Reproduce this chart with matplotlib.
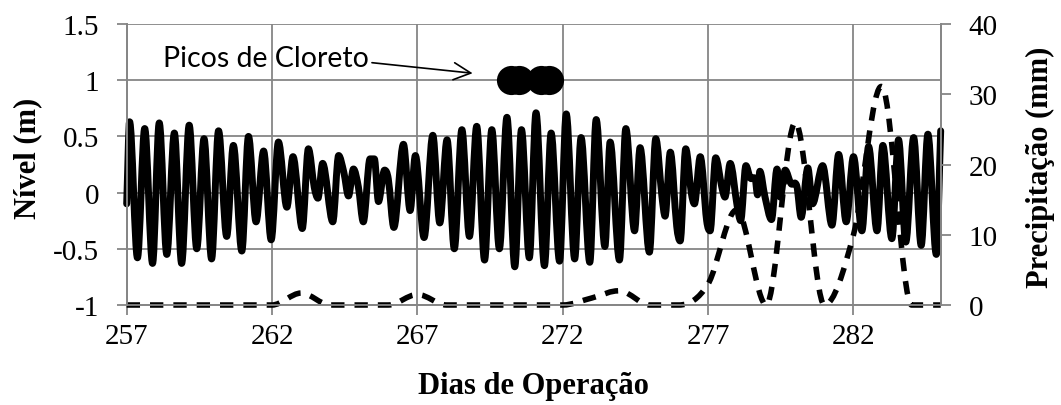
import matplotlib
matplotlib.use("Agg")
import matplotlib.pyplot as plt
from matplotlib.path import Path
from matplotlib.patches import PathPatch

# tide level turning points (day of operation, level in m)
tide_day = [257.00, 257.10, 257.37, 257.62, 257.89, 258.12, 258.38, 258.64, 258.89, 259.15,
            259.41, 259.66, 259.92, 260.16, 260.44, 260.67, 260.96, 261.19, 261.45, 261.71,
            261.97, 262.22, 262.51, 262.72, 263.04, 263.25, 263.45, 263.58, 263.74, 264.09,
            264.29, 264.47, 264.63, 264.80, 264.97, 265.14, 265.37, 265.52, 265.66, 265.87,
            266.00, 266.19, 266.52, 266.75, 266.93, 267.23, 267.53, 267.77, 268.02, 268.27,
            268.53, 268.79, 269.04, 269.31, 269.56, 269.82, 270.08, 270.35, 270.58, 270.85,
            271.08, 271.37, 271.60, 271.89, 272.12, 272.41, 272.63, 272.93, 273.15, 273.45,
            273.63, 273.95, 274.17, 274.47, 274.66, 274.98, 275.20, 275.41, 275.52, 275.70,
            275.92, 276.04, 276.23, 276.42, 276.53, 276.73, 276.95, 277.07, 277.26, 277.47,
            277.58, 277.76, 278.00, 278.12, 278.30, 278.45, 278.62, 278.70, 278.78, 278.95,
            279.18, 279.37, 279.48, 279.65, 279.85, 280.05, 280.20, 280.43, 280.59, 280.94,
            281.26, 281.49, 281.75, 282.00, 282.29, 282.52, 282.81, 283.01, 283.32, 283.55,
            283.80, 284.07, 284.33, 284.56, 284.85, 285.00]
tide_level = [-0.10, 0.63, -0.58, 0.57, -0.63, 0.62, -0.55, 0.53, -0.63, 0.60,
              -0.50, 0.48, -0.59, 0.55, -0.39, 0.42, -0.52, 0.50, -0.26, 0.37,
              -0.42, 0.45, -0.13, 0.32, -0.32, 0.39, 0.05, -0.05, 0.26, -0.26,
              0.33, 0.18, -0.03, 0.21, 0.05, -0.26, 0.30, 0.30, -0.08, 0.20,
              0.12, -0.31, 0.43, -0.16, 0.33, -0.40, 0.51, -0.27, 0.47, -0.50,
              0.56, -0.39, 0.59, -0.60, 0.56, -0.50, 0.67, -0.66, 0.56, -0.58,
              0.71, -0.65, 0.53, -0.61, 0.70, -0.59, 0.49, -0.62, 0.65, -0.48,
              0.45, -0.60, 0.57, -0.34, 0.40, -0.53, 0.48, -0.03, -0.21, 0.36,
              -0.30, -0.43, 0.39, 0.00, -0.10, 0.32, -0.25, -0.34, 0.31, 0.05,
              -0.04, 0.26, -0.12, -0.25, 0.24, 0.13, 0.12, -0.02, 0.19, -0.03,
              -0.24, 0.21, -0.04, 0.20, 0.08, 0.06, -0.22, 0.22, -0.10, 0.24,
              -0.29, 0.34, -0.26, 0.32, -0.34, 0.41, -0.34, 0.42, -0.41, 0.47,
              -0.44, 0.49, -0.47, 0.52, -0.55, 0.55]

# daily precipitation (mm)
rain_day = list(range(257, 286))
rain_mm = [0, 0, 0, 0, 0, 0, 1.7, 0, 0, 0, 1.5, 0, 0, 0, 0, 0, 1.0, 2.0, 0, 0,
           3.0, 13.5, 0, 26, 0, 10, 31, 0, 0]

# chloride peaks
chloride_day = [270.21, 270.49, 271.25, 271.53]
chloride_level = [1.0, 1.0, 1.0, 1.0]

x_ticks = [257, 262, 267, 272, 277, 282]
level_ticks = [-1, -0.5, 0, 0.5, 1, 1.5]
level_labels = ["-1", "-0.5", "0", "0.5", "1", "1.5"]
rain_ticks = [0, 10, 20, 30, 40]

GRID = "#868686"
SERIF = "Liberation Serif"


def slopes(x, y, flat_max, flat_min):
    n = len(x)
    m = []
    for i in range(n):
        if i == 0:
            m.append((y[1] - y[0]) / (x[1] - x[0]))
            continue
        if i == n - 1:
            m.append((y[-1] - y[-2]) / (x[-1] - x[-2]))
            continue
        is_max = y[i] >= y[i - 1] and y[i] >= y[i + 1]
        is_min = y[i] <= y[i - 1] and y[i] <= y[i + 1]
        if (flat_max and is_max) or (flat_min and is_min):
            m.append(0.0)
        else:
            m.append((y[i + 1] - y[i - 1]) / (x[i + 1] - x[i - 1]))
    return m


def smooth_path(x, y, m):
    # cubic bezier through the points, like excel's smoothed line
    verts = [(x[0], y[0])]
    codes = [Path.MOVETO]
    for i in range(len(x) - 1):
        h = (x[i + 1] - x[i]) / 3
        verts += [(x[i] + h, y[i] + m[i] * h),
                  (x[i + 1] - h, y[i + 1] - m[i + 1] * h),
                  (x[i + 1], y[i + 1])]
        codes += [Path.CURVE4] * 3
    return Path(verts, codes)


fig = plt.figure(figsize=(10.61, 4.06), dpi=100)
ax = fig.add_axes([0.1194, 0.2463, 0.7672, 0.6921])
ax2 = ax.twinx()

ax.set_xlim(257, 285)
ax.set_ylim(-1, 1.5)
ax2.set_ylim(0, 40)

ax.grid(True, color=GRID, lw=1.3)
ax.set_axisbelow(True)
ax.set_xticks(x_ticks)
ax.set_yticks(level_ticks)
ax.set_yticklabels(level_labels)
ax2.set_yticks(rain_ticks)

for a in (ax, ax2):
    a.spines["top"].set_visible(False)
    for s in ("left", "right", "bottom"):
        a.spines[s].set_color(GRID)
        a.spines[s].set_linewidth(1.3)
    a.tick_params(colors=GRID, labelcolor="black", length=7, width=1.3,
                  labelsize=21, direction="out")
    for lbl in a.get_xticklabels() + a.get_yticklabels():
        lbl.set_fontfamily(SERIF)
ax.tick_params(axis="y", pad=13)
ax.tick_params(axis="x", pad=6)
ax2.tick_params(axis="y", pad=13)

# excel does not clip series at the plot area edge
tide = PathPatch(smooth_path(tide_day, tide_level, slopes(tide_day, tide_level, True, True)),
                 fill=False, edgecolor="black", lw=5.0, joinstyle="round", capstyle="round",
                 clip_on=False)
ax.add_patch(tide)

rain = PathPatch(smooth_path(rain_day, rain_mm, slopes(rain_day, rain_mm, False, True)),
                 fill=False, edgecolor="black", lw=4.0, linestyle=(0, (2.4, 1.8)),
                 capstyle="butt", joinstyle="round", clip_on=False)
ax2.add_patch(rain)

ax.plot(chloride_day, chloride_level, "o", color="black", markersize=21,
        markeredgewidth=0, zorder=5)

ax.annotate("Picos de Cloreto", xy=(268.9, 1.062), xytext=(258.26, 1.122),
            textcoords="data", ha="left", va="baseline", fontsize=20.5, family="Lato",
            arrowprops=dict(arrowstyle="->, head_length=0.6, head_width=0.3",
                            lw=1.2, color="black", relpos=(1.0, 0.35), shrinkA=0, shrinkB=0))

ax.set_xlabel("Dias de Operação", fontsize=22, fontweight="bold", family=SERIF)
ax.xaxis.set_label_coords(0.5, -0.288)
ax.xaxis.label.set_verticalalignment("center")
ax.set_ylabel("Nível (m)", fontsize=22, fontweight="bold", family=SERIF)
ax.yaxis.set_label_coords(-0.122, 0.527)
ax.yaxis.label.set_verticalalignment("center")
ax2.set_ylabel("Precipitação (mm)", fontsize=22, fontweight="bold", family=SERIF)
ax2.yaxis.set_label_coords(1.123, 0.493)
ax2.yaxis.label.set_verticalalignment("center")

fig.savefig("out.png", dpi=100)
